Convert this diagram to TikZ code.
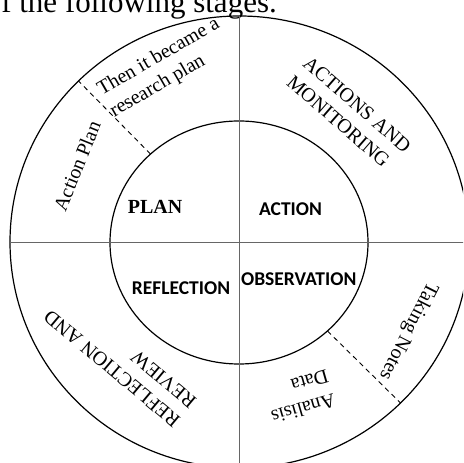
\documentclass[tikz,border=0pt]{standalone}
\usepackage{fontspec}
\setmainfont{Liberation Serif}
\newfontfamily\calib{Carlito}
\usetikzlibrary{shapes.geometric}
\begin{document}
\begin{tikzpicture}[x=1pt,y=1pt,
  ring/.style={ellipse, draw=black, line width=1.2pt, inner sep=0pt, outer sep=0pt},
  axisline/.style={draw=black!60, line width=0.9pt},
  divider/.style={draw=black, line width=0.9pt, dash pattern=on 5pt off 4pt},
  ringlabel/.style={font=\fontsize{20}{25}\selectfont, align=left, inner sep=0pt},
  stage/.style={font=\calib\bfseries\fontsize{19.5}{23}\selectfont, inner sep=0pt, anchor=base},
]
\useasboundingbox (0,0) rectangle (463,463);
\begin{scope}
\clip (0,0) rectangle (463,463);

% running text above the figure
\node[font=\fontsize{31}{36}\selectfont, inner sep=0pt, anchor=base east] (caption) at (277,450) {f the following stages.};

% the two rings of the cycle
\node[ring, minimum width=459pt, minimum height=452pt] (outer) at (239.5,221) {};
\node[ring, minimum width=258pt, minimum height=243pt] (inner) at (239,220.5) {};

% quadrant axes
\draw[axisline] (outer.west) -- (outer.east);
\draw[axisline] (outer.north) -- (outer.south);

% dashed dividers in the outer ring
\draw[divider] (inner.135) -- (outer.135);
\draw[divider] (inner.-45) -- (outer.-45);

% stage names
\node[stage, font=\bfseries\fontsize{20}{24}\selectfont] (plan) at (155,249) {PLAN};
\node[stage] (action) at (290.5,247.3) {ACTION};
\node[stage] (reflection) at (181,168) {REFLECTION};
\node[stage] (observation) at (298.7,177) {OBSERVATION};

% notes in the outer ring
\node[ringlabel, rotate=30] (research) at (165,395) {Then it became a\\research plan};
\node[ringlabel, rotate=68] (actplan) at (77,297) {Action Plan};
\node[ringlabel, rotate=-41] (monitor) at (349,349) {ACTIONS AND\\MONITORING};
\node[ringlabel, rotate=-117] (notes) at (408,132) {Taking Notes};
\node[ringlabel, rotate=196] (analysis) at (300,66) {Analisis\\Data};
\node[ringlabel, rotate=140] (review) at (120,104) {REFLECTION AND\\REVIEW};
\end{scope}
\end{tikzpicture}
\end{document}
